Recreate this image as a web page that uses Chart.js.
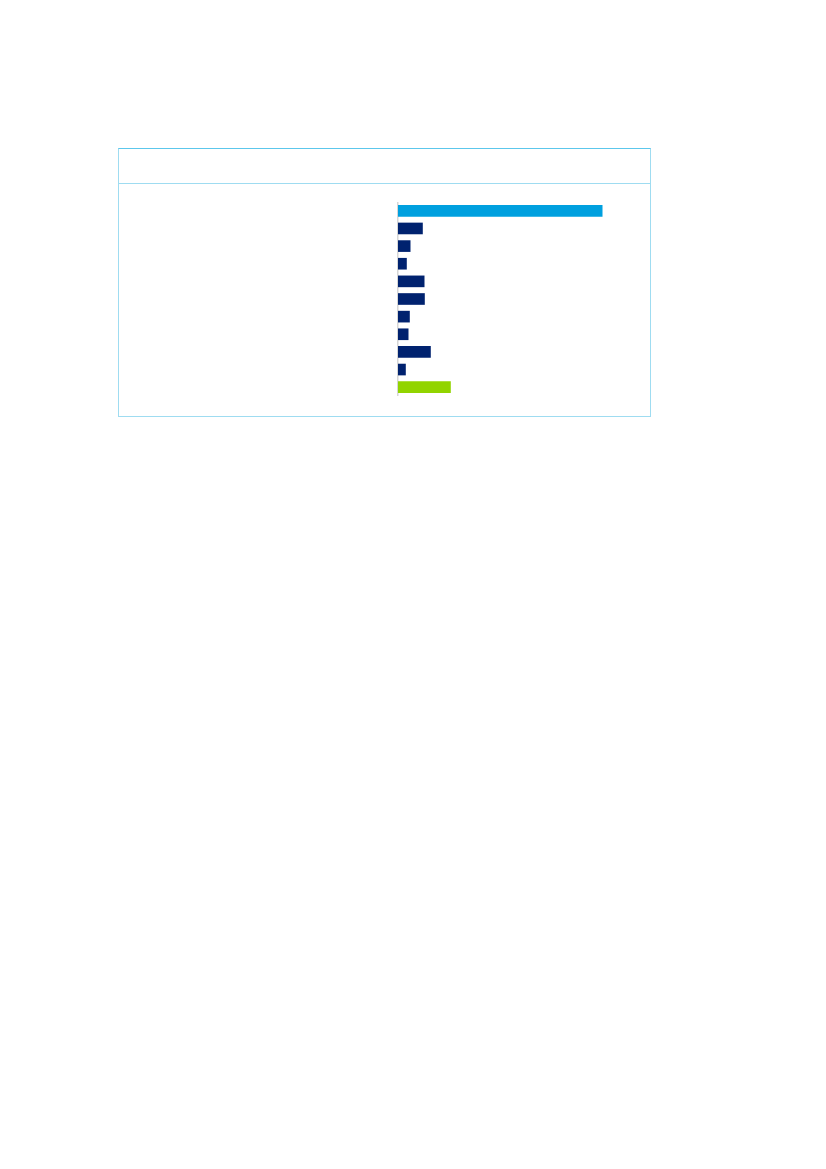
<!DOCTYPE html>
<html>
<head>
<meta charset="utf-8">
<script src="https://cdn.jsdelivr.net/npm/chart.js@4"></script>
<style>
  html, body { margin: 0; padding: 0; background: #fff; }
  body { width: 826px; height: 1169px; position: relative; overflow: hidden; }
  #frame {
    position: absolute; left: 118px; top: 148px; width: 531px; height: 267px;
    border: 1px solid #9fdcf1; border-top-color: #5cc7ec; box-sizing: content-box;
  }
  #head { height: 34px; border-bottom: 1px solid #9fdcf1; }
  #wrap { position: absolute; left: 390px; top: 202px; width: 258px; height: 194px; }
</style>
</head>
<body>
<div id="frame"><div id="head"></div></div>
<div id="wrap"><canvas id="bars"></canvas></div>
<script>
// one value per row, top to bottom
let categories = ["Row 1", "Row 2", "Row 3", "Row 4", "Row 5", "Row 6", "Row 7", "Row 8", "Row 9", "Row 10", "Row 11"];
let values = [40.9, 4.96, 2.5, 1.76, 5.3, 5.36, 2.36, 2.1, 6.56, 1.56, 10.56];
let barColors = ["#00a0df", "#00226f", "#00226f", "#00226f", "#00226f", "#00226f", "#00226f", "#00226f", "#00226f", "#00226f", "#92d400"];

let chart = new Chart(document.querySelector("#bars"), {
  type: "bar",
  data: {
    labels: categories,
    datasets: [{
      data: values,
      backgroundColor: barColors,
      borderWidth: 0,
      barPercentage: 0.66,
      categoryPercentage: 1
    }]
  },
  options: {
    indexAxis: "y",
    maintainAspectRatio: false,
    animation: false,
    layout: { padding: { left: 8, right: 0, top: 0, bottom: 0 } },
    plugins: { legend: { display: false }, tooltip: { enabled: false } },
    scales: {
      x: { display: false, min: 0, max: 50 },
      y: {
        ticks: { display: false },
        grid: { display: false },
        border: { display: true, color: "#d6d6d6", width: 1.5 },
        afterFit: s => { s.width = 0; }
      }
    }
  }
});
</script>
</body>
</html>
